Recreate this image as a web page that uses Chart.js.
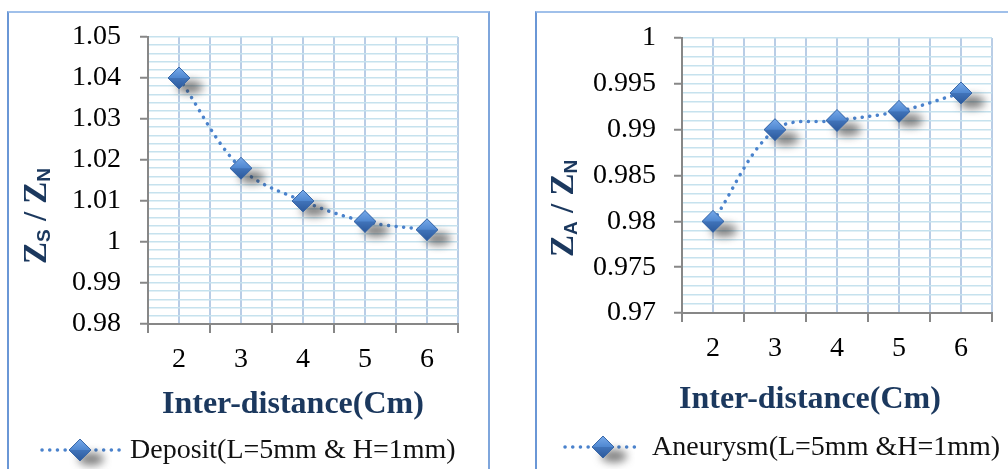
<!DOCTYPE html>
<html><head><meta charset="utf-8">
<script src="https://cdn.jsdelivr.net/npm/chart.js@4/dist/chart.umd.min.js"></script>
<style>
html,body{margin:0;padding:0;background:#fff;width:1008px;height:469px;overflow:hidden;position:relative}
.frame{position:absolute;box-sizing:border-box;border-left:2px solid #6a97d6;border-top:2px solid #a0c0ea;border-right:2px solid #7fa6dc}
canvas{position:absolute;left:0;top:0}
</style></head><body>
<div class="frame" style="left:7px;top:11px;width:483px;height:520px"></div>
<div class="frame" style="left:535px;top:11px;width:520px;height:520px"></div>
<canvas id="c1" width="1008" height="469"></canvas>
<canvas id="c2" width="1008" height="469"></canvas>
<script>
// ---- data ----
const distances = [2, 3, 4, 5, 6];
const depositRatio = [1.04, 1.018, 1.01, 1.005, 1.003];
const aneurysmRatio = [0.98, 0.99, 0.991, 0.992, 0.994];
const depositYTicks = [0.98, 0.99, 1.00, 1.01, 1.02, 1.03, 1.04, 1.05];
const aneurysmYTicks = [0.97, 0.975, 0.98, 0.985, 0.99, 0.995, 1.0];
const depositName = 'Deposit(L=5mm & H=1mm)';
const aneurysmName = 'Aneurysm(L=5mm &H=1mm)';
const xTitle = 'Inter-distance(Cm)';
const depositYTitle = [['Z', false], ['S', true], [' / ', false], ['Z', false], ['N', true]];
const aneurysmYTitle = [['Z', false], ['A', true], [' / ', false], ['Z', false], ['N', true]];

// ---- style ----
const SERIF = '"Liberation Serif", "Times New Roman", serif';
const SANS = '"Liberation Sans", Arial, sans-serif';
const NAVY = '#1b385e';
const AXIS = '#878787';
const LINE = '#4a82cc';

function makeMarker() {
  const c = document.createElement('canvas'); c.width = 64; c.height = 64;
  const g = c.getContext('2d');
  const cx = 32, cy = 32, r = 11;
  g.save(); g.filter = 'blur(4px)'; g.fillStyle = 'rgba(50,50,50,0.62)';
  g.beginPath(); g.ellipse(cx + 11, cy + 9, 13, 6.5, 0, 0, Math.PI * 2); g.fill(); g.restore();
  const path = () => { g.beginPath(); g.moveTo(cx, cy - r); g.lineTo(cx + r, cy); g.lineTo(cx, cy + r); g.lineTo(cx - r, cy); g.closePath(); };
  path();
  const gr = g.createLinearGradient(0, cy - r, 0, cy + r);
  gr.addColorStop(0, '#78aaea'); gr.addColorStop(0.5, '#4f87d0'); gr.addColorStop(1, '#3364a8');
  g.fillStyle = gr; g.fill();
  g.beginPath(); g.moveTo(cx - r, cy); g.lineTo(cx + r, cy); g.lineTo(cx, cy + r); g.closePath();
  g.fillStyle = 'rgba(20,50,110,0.22)'; g.fill();
  path(); g.lineWidth = 1; g.strokeStyle = '#3a68a8'; g.stroke();
  return c;
}
const marker = makeMarker();

const decor = {
  id: 'decor',
  afterDraw(chart, args, o) {
    const ctx = chart.ctx;
    ctx.save();
    // y title (rotated, with subscripts)
    ctx.save();
    ctx.translate(o.yTitle.x, o.yTitle.y);
    ctx.rotate(-Math.PI / 2);
    ctx.fillStyle = NAVY; ctx.textAlign = 'left'; ctx.textBaseline = 'alphabetic';
    let cx = 0;
    for (const [t, sub] of o.yTitle.parts) {
      ctx.font = sub ? 'bold 19px ' + SANS : 'bold 33px ' + SERIF;
      ctx.fillText(t, cx, sub ? 4 : 0);
      cx += ctx.measureText(t).width;
    }
    ctx.restore();
    // x title
    ctx.fillStyle = NAVY; ctx.font = 'bold 32px ' + SERIF; ctx.textAlign = 'left'; ctx.textBaseline = 'alphabetic';
    ctx.fillText(o.xTitle.text, o.xTitle.x, o.xTitle.y);
    // legend
    const L = o.legend;
    ctx.save();
    ctx.strokeStyle = LINE; ctx.lineWidth = 3.5; ctx.lineCap = 'round'; ctx.setLineDash([0.1, 7.6]);
    ctx.beginPath(); ctx.moveTo(L.x1, L.y); ctx.lineTo(L.x2, L.y); ctx.stroke();
    ctx.restore();
    ctx.drawImage(marker, L.xd - marker.width / 2, L.y - marker.height / 2);
    ctx.fillStyle = '#111'; ctx.font = '28px ' + SERIF; ctx.textAlign = 'left'; ctx.textBaseline = 'alphabetic';
    ctx.fillText(L.text, L.xt, L.yt);
    ctx.restore();
  }
};

function fmt(v, d) { return String(Number(v.toFixed(d))); }

function makeChart(id, values, yTicks, digits, geo, deco) {
  const yMin = yTicks[0], yMax = yTicks[yTicks.length - 1];
  return new Chart(document.getElementById(id), {
    type: 'line',
    data: {
      datasets: [{
        data: distances.map((d, i) => ({ x: d, y: values[i] })),
        borderColor: LINE, borderWidth: 3.5, borderDash: [0.1, 7.6], borderCapStyle: 'round',
        tension: 0.35, fill: false, clip: false,
        pointStyle: marker, pointRadius: 11, pointHoverRadius: 11
      }]
    },
    options: {
      responsive: false, animation: false, events: [],
      layout: { autoPadding: false, padding: { left: geo.padLeft, top: geo.top, right: 1008 - geo.right, bottom: 0 } },
      plugins: { legend: { display: false }, tooltip: { enabled: false }, decor: deco },
      scales: {
        x: {
          type: 'linear', min: distances[0] - 0.5, max: distances[distances.length - 1] + 0.5,
          afterBuildTicks(s) {
            const t = [];
            distances.forEach(d => { t.push({ value: d - 0.5, center: false }); t.push({ value: d, center: true }); });
            t.push({ value: distances[distances.length - 1] + 0.5, center: false });
            s.ticks = t;
          },
          afterFit(s) { s.height = 469 - geo.bottom; },
          grid: { color: '#b9cde6', lineWidth: 2, tickLength: 9, tickWidth: 2,
            tickColor: c => (c.tick && c.tick.center) ? 'rgba(0,0,0,0)' : AXIS },
          border: { display: true, color: AXIS, width: 2 },
          ticks: { autoSkip: false, maxRotation: 0, padding: 10, color: '#000',
            font: { family: SERIF, size: 28 },
            callback(v, i, ts) { return ts[i].center ? String(v) : ''; } }
        },
        y: {
          type: 'linear', min: yMin, max: yMax,
          afterBuildTicks(s) {
            const t = [];
            for (let k = 0; k < yTicks.length; k++) {
              t.push({ value: yTicks[k], major2: true });
              if (k < yTicks.length - 1) {
                for (let m = 1; m < 5; m++) t.push({ value: yTicks[k] + (yTicks[k + 1] - yTicks[k]) * m / 5, major2: false });
              }
            }
            s.ticks = t;
          },
          afterFit(s) { s.width = geo.left - geo.padLeft; },
          grid: { color: '#c6e2ee', lineWidth: 1.5, tickLength: 8, tickWidth: 2,
            tickColor: c => (c.tick && c.tick.major2) ? AXIS : 'rgba(0,0,0,0)' },
          border: { display: true, color: AXIS, width: 2 },
          ticks: { autoSkip: false, padding: geo.ypad, color: '#000',
            font: { family: SERIF, size: 28 },
            callback(v, i, ts) { return ts[i].major2 ? fmt(v, digits) : ''; } }
        }
      }
    },
    plugins: [decor]
  });
}

makeChart('c1', depositRatio, depositYTicks, 2,
  { padLeft: 0, left: 148, right: 458, top: 37, bottom: 324, ypad: 19 },
  { yTitle: { x: 46, y: 264, parts: depositYTitle },
    xTitle: { text: xTitle, x: 162, y: 413 },
    legend: { x1: 42, x2: 122, xd: 80, y: 450, xt: 130, yt: 458, text: depositName } });

makeChart('c2', aneurysmRatio, aneurysmYTitle ? aneurysmYTicks : aneurysmYTicks, 3,
  { padLeft: 536, left: 682, right: 992, top: 38, bottom: 313, ypad: 18 },
  { yTitle: { x: 573, y: 257, parts: aneurysmYTitle },
    xTitle: { text: xTitle, x: 679, y: 408 },
    legend: { x1: 565, x2: 637, xd: 603, y: 447, xt: 652, yt: 455, text: aneurysmName } });
</script>
</body></html>
